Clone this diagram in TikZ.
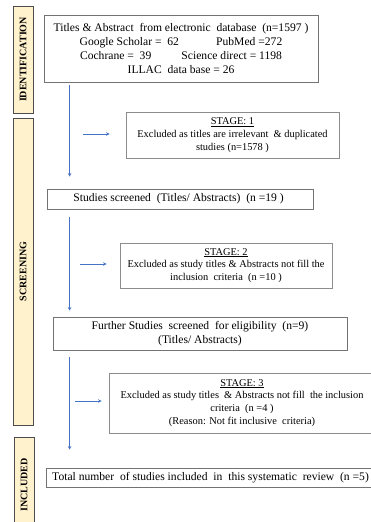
\documentclass[tikz,border=0pt]{standalone}
\usepackage{fontspec}
\setmainfont{Liberation Serif}
\definecolor{flowblue}{RGB}{68, 114, 196}
\definecolor{phasetan}{RGB}{255, 242, 204}
\usetikzlibrary{arrows.meta, positioning, calc}

\begin{document}
\begin{tikzpicture}[
  x=1pt, y=-1pt,
  pbox/.style={draw=black!55, line width=0.8pt, align=center, inner sep=1pt, font=\fontsize{11.6}{14.2}\selectfont},
  sbox/.style={draw=black!45, line width=0.8pt, align=center, inner sep=1pt, font=\fontsize{10.4}{12.8}\selectfont},
  phase/.style={draw=black!70, line width=0.8pt, fill=phasetan, rotate=90, inner sep=0pt, minimum height=20pt, font=\fontsize{10}{11}\selectfont\bfseries},
  flow/.style={draw=flowblue, line width=0.8pt, -{Stealth[length=3.5pt, width=3.5pt]}}
]
  \useasboundingbox (0,0) rectangle (370,522);

  % phase bars
  \node[phase, minimum width=107pt] (ident) at (23, 59.5) {IDENTIFICATION};
  \node[phase, minimum width=307pt] (screen) at (23, 271.5) {SCREENING};
  \node[phase, minimum width=96pt] (incl) at (24, 485) {INCLUDED};

  % main boxes
  \node[pbox, minimum width=274pt, minimum height=67pt] (records) at (181, 48.5) {
    Titles \& Abstract\ \ from electronic\ \ database\ \ (n=1597 )\\
    Google Scholar =\ \ 62\hspace{3.2em}PubMed =272\\
    Cochrane =\ \ 39\hspace{2.6em}Science direct = 1198\\
    ILLAC\ \ data base = 26
  };
  \node[sbox, minimum width=213pt, minimum height=46pt] (stage1) at (232.5, 135) {
    \underline{STAGE: 1}\\
    Excluded as titles are irrelevant\ \ \& duplicated\\
    studies (n=1578 )
  };
  \node[pbox, minimum width=266pt, minimum height=20pt] (screened) at (180, 199) {
    Studies screened\ \ (Titles/ Abstracts)\ \ (n =19 )
  };
  \node[sbox, minimum width=212pt, minimum height=45pt] (stage2) at (226, 265.5) {
    \underline{STAGE: 2}\\
    Excluded as study titles \& Abstracts not fill the\\
    inclusion\ \ criteria\ \ (n =10 )
  };
  \node[pbox, minimum width=294pt, minimum height=33pt] (further) at (200, 333.5) {
    Further Studies\ \ screened\ \ for eligibility\ \ (n=9)\\
    (Titles/ Abstracts)
  };
  \node[sbox, minimum width=266pt, minimum height=60pt] (stage3) at (242, 403) {
    \underline{STAGE: 3}\\
    Excluded as study titles\ \ \& Abstracts not fill\ \ the inclusion\\
    criteria\ \ (n =4 )\\
    (Reason: Not fit inclusive\ \ criteria)
  };
  \node[pbox, minimum width=332pt, minimum height=19pt] (total) at (212, 477.5) {
    Total number\ \ of studies included\ \ in\ \ this systematic\ \ review\ \ (n =5)
  };

  % connectors
  \draw[flow] ([xshift=26pt, yshift=-3pt]records.south west) -- ([xshift=23pt, yshift=12pt]screened.north west);
  \draw[flow] ([xshift=23pt, yshift=-8pt]screened.south west) -- ([xshift=17pt, yshift=6pt]further.north west);
  \draw[flow] ([xshift=17pt, yshift=-7pt]further.south west) -- ([xshift=24pt, yshift=18pt]total.north west);

  \draw[flow] ([xshift=-43pt, yshift=1pt]stage1.west) -- ([xshift=-16pt, yshift=1pt]stage1.west);
  \draw[flow] ([xshift=-40pt, yshift=1.5pt]stage2.west) -- ([xshift=-13pt, yshift=1.5pt]stage2.west);
  \draw[flow] ([xshift=-34pt, yshift=2pt]stage3.west) -- ([xshift=-7pt, yshift=2pt]stage3.west);
\end{tikzpicture}
\end{document}
